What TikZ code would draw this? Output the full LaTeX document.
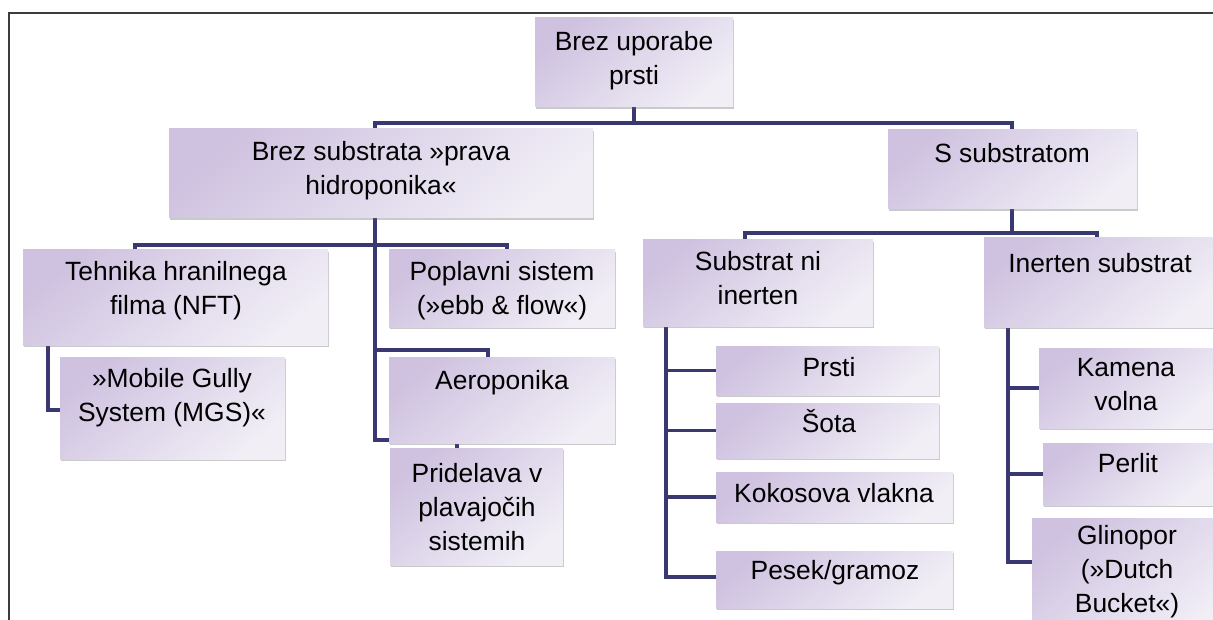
\documentclass[tikz,border=0pt]{standalone}
\usepackage{fontspec}
\setmainfont{Liberation Sans}
\usetikzlibrary{fit,backgrounds,shadows}
\definecolor{boxA}{HTML}{CFC2E0}
\definecolor{boxB}{HTML}{F1EEF6}
\definecolor{conncol}{HTML}{3A3870}
\definecolor{framecol}{HTML}{3C3C3C}
\tikzset{
  box/.style={inner sep=0pt, outer sep=0pt, draw=none,
    top color=boxA, bottom color=boxB, shading angle=40,
    drop shadow={shadow xshift=0.6pt, shadow yshift=-1.2pt, opacity=0.35, fill=black!60}},
  txt/.style={font=\fontsize{19.8pt}{25.5pt}\selectfont, align=center, inner sep=0pt,
    execute at begin node=\strut, execute at end node=\strut},
  conn/.style={draw=conncol, line width=2.4pt, line join=miter},
  framestyle/.style={draw=framecol, line width=1.5pt}
}
\begin{document}
\begin{tikzpicture}[x=0.75pt,y=-0.75pt]
\useasboundingbox (0,0) rectangle (1213,620);
% frame
\coordinate (fbl) at (9,640);
\coordinate (ftl) at (9,13);
\coordinate (ftr) at (1240,13);
\draw[framestyle] (fbl) -- (ftl) -- (ftr);

% boxes
\node[box, fit={(535,18) (733,107)}] (root) {};
\node[box, fit={(169,129) (593,218)}] (bsub) {};
\node[box, fit={(888,130) (1137,209)}] (ssub) {};
\node[box, fit={(23,250) (328,345)}] (nft) {};
\node[box, fit={(60,357) (285,459)}] (mgs) {};
\node[box, fit={(389,250) (615,327)}] (popl) {};
\node[box, fit={(389,357) (615,443)}] (aero) {};
\node[box, fit={(390,448) (563,565)}] (prid) {};
\node[box, fit={(643,240) (873,326)}] (sni) {};
\node[box, fit={(984,238) (1216,327)}] (inert) {};
\node[box, fit={(716,346) (939,395)}] (prsti) {};
\node[box, fit={(716,403) (939,458)}] (sota) {};
\node[box, fit={(716,472) (953,522)}] (koko) {};
\node[box, fit={(716,551) (953,608)}] (pesek) {};
\node[box, fit={(1039,348) (1213,428)}] (kam) {};
\node[box, fit={(1043,443) (1213,505)}] (perl) {};
\node[box, fit={(1032,518) (1222,640)}] (glin) {};

% texts
\node[txt] (root-t) at (634,63) {Brez uporabe\\prsti};
\node[txt] (bsub-t) at (381,173) {Brez substrata »prava\\hidroponika«};
\node[txt] (ssub-t) at (1012,156) {S substratom};
\node[txt] (nft-t) at (176,293) {Tehnika hranilnega\\filma (NFT)};
\node[txt] (mgs-t) at (172,400) {»Mobile Gully\\System (MGS)«};
\node[txt] (popl-t) at (502,293) {Poplavni sistem\\(»ebb \& flow«)};
\node[txt] (aero-t) at (502,383) {Aeroponika};
\node[txt] (prid-t) at (477,512) {Pridelava v\\plavajočih\\sistemih};
\node[txt] (sni-t) at (758,283) {Substrat ni\\inerten};
\node[txt] (inert-t) at (1100,266) {Inerten substrat};
\node[txt] (prsti-t) at (829,370) {Prsti};
\node[txt] (sota-t) at (829,426) {Šota};
\node[txt] (koko-t) at (834,496) {Kokosova vlakna};
\node[txt] (pesek-t) at (835,573) {Pesek/gramoz};
\node[txt] (kam-t) at (1126,390) {Kamena\\volna};
\node[txt] (perl-t) at (1128,466) {Perlit};
\node[txt] (glin-t) at (1127,574) {Glinopor\\(»Dutch\\Bucket«)};

% connectors
\begin{scope}[on background layer]
\coordinate (b1L) at (375,123);
\coordinate (b1R) at (1012,123);
\draw[conn] (root.south) -- (root.south |- b1L);
\draw[conn] (bsub.north -| b1L) -- (b1L) -- (b1R) -- (ssub.north -| b1R);

\coordinate (b2L) at (135,245);
\coordinate (b2R) at (507,245);
\draw[conn] (nft.north -| b2L) -- (b2L) -- (b2R) -- (popl.north -| b2R);
\coordinate (abot) at (375,440);
\coordinate (stub) at (457,440);
\draw[conn] (bsub.south -| b1L) -- (abot) -- (stub) -- (prid.north -| stub);
\coordinate (a1) at (375,350);
\coordinate (a2) at (488,350);
\draw[conn] (a1) -- (a2) -- (aero.north -| a2);

\coordinate (n1) at (48,410);
\draw[conn] (nft.south -| n1) -- (n1) -- (mgs.west |- n1);

\coordinate (b3L) at (745,233);
\coordinate (b3R) at (1097,233);
\draw[conn] (ssub.south -| b1R) -- (b1R |- b3L);
\draw[conn] (sni.north -| b3L) -- (b3L) -- (b3R) -- (inert.north -| b3R);

\coordinate (s1) at (666,577);
\draw[conn] (sni.south -| s1) -- (s1) -- (pesek.west |- s1);
\draw[conn] (prsti.west) -- (prsti.west -| s1);
\draw[conn] (sota.west) -- (sota.west -| s1);
\draw[conn] (koko.west) -- (koko.west -| s1);

\coordinate (g1) at (1008,562);
\draw[conn] (inert.south -| g1) -- (g1) -- (g1 -| glin.west);
\draw[conn] (kam.west) -- (kam.west -| g1);
\draw[conn] (perl.west) -- (perl.west -| g1);
\end{scope}
\end{tikzpicture}
\end{document}
